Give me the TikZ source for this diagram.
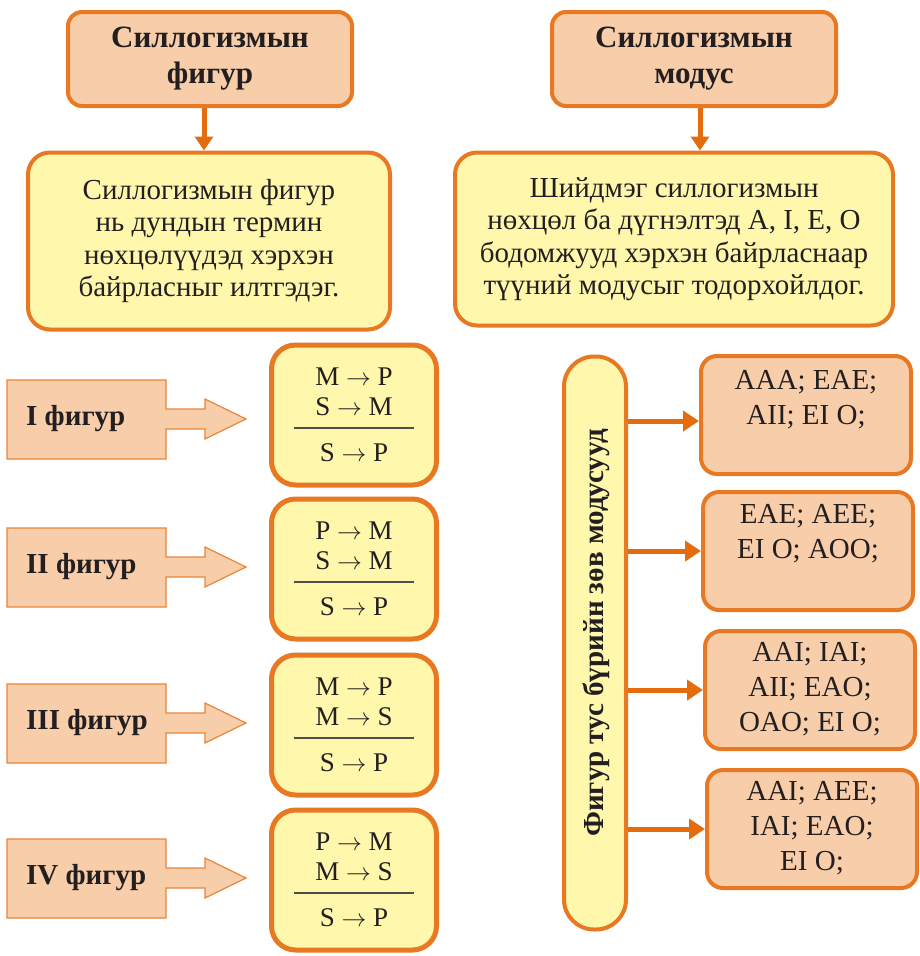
\documentclass[tikz,border=0pt]{standalone}
\usepackage{fontspec}
\setmainfont{Liberation Serif}
\usetikzlibrary{arrows.meta,calc}
\definecolor{edge}{RGB}{232,120,34}
\definecolor{peach}{RGB}{248,205,170}
\definecolor{lemon}{RGB}{255,247,172}
\definecolor{flow}{RGB}{228,108,12}
\definecolor{ink}{RGB}{35,31,32}
\tikzset{
  titlebox/.style={draw=edge, fill=peach, line width=4pt, rounded corners=14pt,
    minimum width=284pt, minimum height=94pt, align=center, text=ink,
    font=\bfseries\fontsize{31}{36}\selectfont},
  notebox/.style={draw=edge, fill=lemon, line width=4pt, rounded corners=22pt,
    align=center, text=ink, font=\fontsize{29}{32.5}\selectfont},
  rulebox/.style={draw=edge, fill=lemon, line width=5pt, rounded corners=24pt,
    minimum width=165pt, minimum height=140pt},
  modbox/.style={draw=edge, fill=peach, line width=4pt, rounded corners=16pt,
    minimum width=210pt, minimum height=118pt},
  modtext/.style={anchor=north, align=center, text=ink, inner sep=0pt,
    font=\fontsize{29}{35}\selectfont},
  premise/.style={text=ink, inner sep=0pt, font=\fontsize{27}{30}\selectfont},
  figlabel/.style={anchor=west, inner sep=0pt, text=ink,
    font=\bfseries\fontsize{29}{32}\selectfont},
  figarrow/.style={draw=edge!90!white, fill=peach, line width=1.2pt},
  flowline/.style={draw=flow, line width=5pt,
    -{Triangle[length=16pt,width=20pt]}},
}
% a notched block arrow: body, narrow shaft, triangular head
\newcommand{\blockarrow}[1]{%
  \draw[figarrow] (7,#1-39) -- (166,#1-39) -- (166,#1-10) -- (205,#1-10)
    -- (205,#1-20) -- (246,#1) -- (205,#1+20) -- (205,#1+10) -- (166,#1+10)
    -- (166,#1+40) -- (7,#1+40) -- cycle;}
% premises with a rule above the conclusion (y grows downwards)
\newcommand{\premises}[4]{%
  \node[premise] at ($(#1.center)+(0,-38)$) {#2};
  \node[premise] at ($(#1.center)+(0,-8)$) {#3};
  \draw[ink!80, line width=1.2pt] ($(#1.center)+(-60,13)$) -- ($(#1.center)+(60,13)$);
  \node[premise] at ($(#1.center)+(0,38)$) {#4};}
\newcommand{\ar}{$\rightarrow$}
\begin{document}
\begin{tikzpicture}[x=1pt,y=-1pt]
\path[use as bounding box, fill=white] (0,0) rectangle (919,956);

% headers
\node[titlebox] (fig) at (210,59) {Силлогизмын\\фигур};
\node[titlebox] (mod) at (694,59) {Силлогизмын\\модус};

% explanations
\node[notebox, minimum width=362pt, minimum height=177pt] (figtxt) at (209,241)
  {Силлогизмын фигур\\нь дундын термин\\нөхцөлүүдэд хэрхэн\\байрласныг илтгэдэг.};
\node[notebox, minimum width=438pt, minimum height=173pt] (modtxt) at (674,239)
  {Шийдмэг силлогизмын\\нөхцөл ба дүгнэлтэд A, I, E, O\\бодомжууд хэрхэн байрласнаар\\түүний модусыг тодорхойлдог.};

\draw[flowline, -{Triangle[length=14pt,width=18pt]}] (fig.south -| 204,0) -- (figtxt.north -| 204,0);
\draw[flowline, -{Triangle[length=14pt,width=18pt]}] (mod.south -| 700,0) -- (modtxt.north -| 700,0);

% the four figures
\blockarrow{419}
\node[figlabel] (f1) at (26,419) {I фигур};
\node[rulebox] (p1) at (354,415) {};
\premises{p1}{M \ar{} P}{S \ar{} M}{S \ar{} P}

\blockarrow{567}
\node[figlabel] (f2) at (26,567) {II фигур};
\node[rulebox] (p2) at (354,569) {};
\premises{p2}{P \ar{} M}{S \ar{} M}{S \ar{} P}

\blockarrow{723}
\node[figlabel] (f3) at (26,723) {III фигур};
\node[rulebox] (p3) at (354,725) {};
\premises{p3}{M \ar{} P}{M \ar{} S}{S \ar{} P}

\blockarrow{878}
\node[figlabel] (f4) at (26,878) {IV фигур};
\node[rulebox] (p4) at (354,880) {};
\premises{p4}{P \ar{} M}{M \ar{} S}{S \ar{} P}

% vertical bar with the valid moods of each figure
\node[draw=edge, fill=lemon, line width=4pt, rounded corners=30pt,
  minimum width=62pt, minimum height=573pt] (bar) at (595,643) {};
\node[rotate=90, text=ink, font=\bfseries\fontsize{29}{32}\selectfont] (bartxt)
  at (596,633) {Фигур тус бүрийн зөв модусууд};

\node[modbox] (m1) at (806,415) {};
\node[modtext] (t1) at ($(m1.north)+(0,16)$) {AAA; EAE;\\AII; EI O;};
\node[modbox] (m2) at (808,551) {};
\node[modtext] (t2) at ($(m2.north)+(0,14)$) {EAE; AEE;\\EI O; AOO;};
\node[modbox] (m3) at (810,690) {};
\node[modtext] (t3) at ($(m3.north)+(0,13)$) {AAI; IAI;\\AII; EAO;\\OAO; EI O;};
\node[modbox] (m4) at (812,829) {};
\node[modtext] (t4) at ($(m4.north)+(0,13)$) {AAI; AEE;\\IAI; EAO;\\EI O;};

\draw[flowline] (bar.east |- 0,421) -- (m1.west |- 0,421);
\draw[flowline] (bar.east |- 0,551) -- (m2.west |- 0,551);
\draw[flowline] (bar.east |- 0,690) -- (m3.west |- 0,690);
\draw[flowline] (bar.east |- 0,829) -- (m4.west |- 0,829);
\end{tikzpicture}
\end{document}
